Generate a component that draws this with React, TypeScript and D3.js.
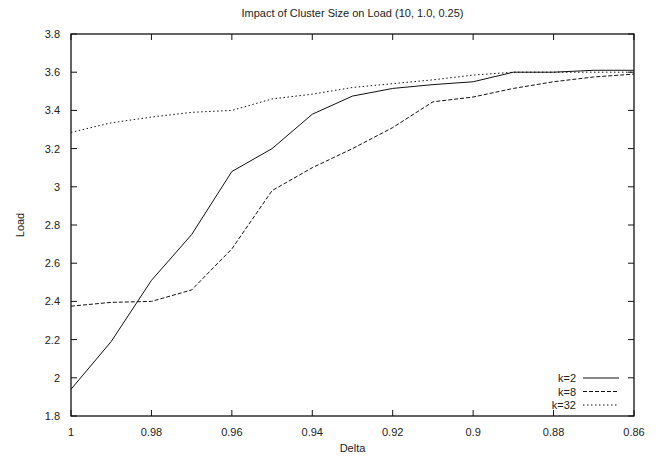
import React from "react";
import * as d3 from "d3";

// values, delta goes 1 -> 0.86 in 0.01 steps
const deltas = [1, 0.99, 0.98, 0.97, 0.96, 0.95, 0.94, 0.93, 0.92, 0.91, 0.9, 0.89, 0.88, 0.87, 0.86];
const loadK2 = [1.94, 2.19, 2.51, 2.75, 3.08, 3.2, 3.38, 3.475, 3.515, 3.535, 3.55, 3.6, 3.6, 3.61, 3.61];
const loadK8 = [2.375, 2.395, 2.4, 2.46, 2.675, 2.98, 3.1, 3.2, 3.31, 3.445, 3.47, 3.515, 3.55, 3.575, 3.59];
const loadK32 = [3.285, 3.335, 3.365, 3.39, 3.4, 3.46, 3.485, 3.52, 3.54, 3.56, 3.585, 3.6, 3.6, 3.6, 3.6];

const xTicks = [1, 0.98, 0.96, 0.94, 0.92, 0.9, 0.88, 0.86];
const yTicks = [1.8, 2, 2.2, 2.4, 2.6, 2.8, 3, 3.2, 3.4, 3.6, 3.8];

const seriesNames = ["k=2", "k=8", "k=32"];
const seriesData = [loadK2, loadK8, loadK32];
const dashes = ["none", "4,2", "1.5,2.5"];

const W = 667;
const H = 460;
const margin = { top: 34, right: 33, bottom: 44, left: 71 };
const font = "'Liberation Sans', Arial, sans-serif";

export default function App() {
  const x = d3.scaleLinear().domain([1, 0.86]).range([margin.left, W - margin.right]);
  const y = d3.scaleLinear().domain([1.8, 3.8]).range([H - margin.bottom, margin.top]);

  const line = d3
    .line<[number, number]>()
    .x(d => x(d[0]))
    .y(d => y(d[1]));

  const x0 = margin.left, x1 = W - margin.right;
  const y0 = H - margin.bottom, y1 = margin.top;
  const tick = 6;

  return (
    <svg
      width={W}
      height={H}
      style={{ position: "fixed", left: 0, top: 0, background: "white" }}
      fontFamily={font}
    >
      <rect x={0} y={0} width={W} height={H} fill="white" />
      <text x={(x0 + x1) / 2} y={17} textAnchor="middle" fontSize={11} fill="#222">
        Impact of Cluster Size on Load (10, 1.0, 0.25)
      </text>

      {/* ticks, gnuplot style: inward and mirrored */}
      {yTicks.map(t => (
        <g key={"y" + t}>
          <line x1={x0} x2={x0 + tick} y1={y(t)} y2={y(t)} stroke="#111" />
          <line x1={x1} x2={x1 - tick} y1={y(t)} y2={y(t)} stroke="#111" />
          <text x={x0 - 11} y={y(t) + 4} textAnchor="end" fontSize={11} fill="#222">
            {d3.format("")(+t.toFixed(1))}
          </text>
        </g>
      ))}
      {xTicks.map(t => (
        <g key={"x" + t}>
          <line x1={x(t)} x2={x(t)} y1={y0} y2={y0 - tick} stroke="#111" />
          <line x1={x(t)} x2={x(t)} y1={y1} y2={y1 + tick} stroke="#111" />
          <text x={x(t)} y={y0 + 20} textAnchor="middle" fontSize={11} fill="#222">
            {String(+t.toFixed(2))}
          </text>
        </g>
      ))}

      <rect x={x0} y={y1} width={x1 - x0} height={y0 - y1} fill="none" stroke="#111" strokeWidth={1.3} />

      {seriesData.map((vals, i) => (
        <path
          key={seriesNames[i]}
          d={line(deltas.map((d, j) => [d, vals[j]] as [number, number])) || ""}
          fill="none"
          stroke="#111"
          strokeWidth={1}
          strokeDasharray={dashes[i]}
        />
      ))}

      {/* legend */}
      {seriesNames.map((name, i) => {
        const ly = 378 + i * 13.5;
        return (
          <g key={"lg" + name}>
            <text x={576} y={ly + 4} textAnchor="end" fontSize={11} fill="#222">
              {name}
            </text>
            <line x1={583} x2={619} y1={ly} y2={ly} stroke="#111" strokeDasharray={dashes[i]} />
          </g>
        );
      })}

      <text x={(x0 + x1) / 2} y={452} textAnchor="middle" fontSize={11} fill="#222">
        Delta
      </text>
      <text
        transform={`translate(24,${(y0 + y1) / 2}) rotate(-90)`}
        textAnchor="middle"
        fontSize={11}
        fill="#222"
      >
        Load
      </text>
    </svg>
  );
}
